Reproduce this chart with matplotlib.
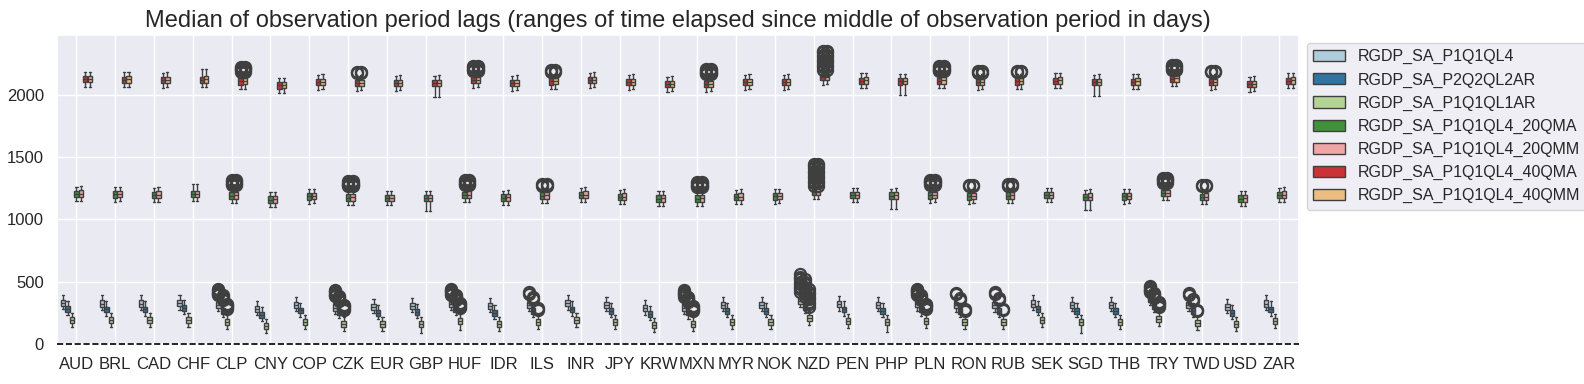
import matplotlib
matplotlib.use("Agg")
import matplotlib.pyplot as plt
import seaborn as sns
from matplotlib.patches import Patch

sns.set_theme(style="darkgrid")
plt.rcParams["font.family"] = ["Liberation Sans", "DejaVu Sans"]

categories = ["AUD", "BRL", "CAD", "CHF", "CLP", "CNY", "COP", "CZK", "EUR", "GBP", "HUF",
              "IDR", "ILS", "INR", "JPY", "KRW", "MXN", "MYR", "NOK", "NZD", "PEN", "PHP",
              "PLN", "RON", "RUB", "SEK", "SGD", "THB", "TRY", "TWD", "USD", "ZAR"]

series = ["RGDP_SA_P1Q1QL4", "RGDP_SA_P2Q2QL2AR", "RGDP_SA_P1Q1QL1AR",
          "RGDP_SA_P1Q1QL4_20QMA", "RGDP_SA_P1Q1QL4_20QMM",
          "RGDP_SA_P1Q1QL4_40QMA", "RGDP_SA_P1Q1QL4_40QMM"]

# medians per series (days)
med_p1q1ql4 = [330, 325, 325, 327, 314, 280, 314, 293, 298, 306, 325, 306, 314, 327, 314, 287,
               293, 314, 314, 347, 319, 314, 319, 311, 311, 325, 314, 314, 360, 314, 298, 325]
med_p2q2ql2ar = [285, 280, 280, 290, 266, 234, 271, 262, 253, 258, 285, 253, 270, 280, 266, 245,
                 255, 266, 266, 300, 280, 266, 280, 266, 266, 285, 266, 266, 306, 266, 250, 280]
med_p1q1ql1ar = [194, 194, 194, 196, 177, 145, 180, 164, 159, 164, 185, 164, 177, 191, 177, 153,
                 159, 177, 177, 212, 185, 177, 185, 177, 177, 191, 177, 177, 199, 172, 159, 185]
med_20qma = [1205, 1200, 1197, 1203, 1190, 1158, 1184, 1174, 1171, 1171, 1197, 1174, 1190, 1197,
             1181, 1166, 1166, 1181, 1184, 1221, 1195, 1190, 1192, 1184, 1190, 1195, 1181, 1184,
             1210, 1181, 1166, 1197]
med_20qmm = [1207, 1202, 1199, 1205, 1192, 1160, 1186, 1176, 1173, 1173, 1199, 1176, 1192, 1199,
             1183, 1168, 1168, 1183, 1186, 1223, 1197, 1192, 1194, 1186, 1192, 1197, 1183, 1186,
             1212, 1183, 1168, 1199]
med_40qma = [2124, 2121, 2118, 2121, 2107, 2075, 2102, 2094, 2094, 2094, 2118, 2094, 2107, 2118,
             2102, 2086, 2086, 2102, 2102, 2142, 2113, 2107, 2113, 2102, 2107, 2113, 2102, 2105,
             2129, 2102, 2086, 2113]
med_40qmm = [2126, 2123, 2120, 2123, 2109, 2077, 2104, 2096, 2096, 2096, 2120, 2096, 2109, 2120,
             2104, 2088, 2088, 2104, 2104, 2144, 2115, 2109, 2115, 2104, 2109, 2115, 2104, 2107,
             2131, 2104, 2088, 2115]
medians = [med_p1q1ql4, med_p2q2ql2ar, med_p1q1ql1ar, med_20qma, med_20qmm, med_40qma, med_40qmm]

# typical spreads relative to the median: q1, q3, lower whisker, upper whisker
spread_q1 = [-24, -25, -25, -26, -26, -25, -25]
spread_q3 = [25, 21, 24, 26, 26, 25, 25]
spread_wlo = [-50, -51, -57, -58, -58, -60, -60]
spread_whi = [65, 62, 56, 58, 58, 60, 60]

# categories with longer whiskers: (category, series) -> (lower, upper)
whisker_override = {
    ("GBP", 2): (87, None), ("PHP", 2): (95, None), ("SGD", 2): (90, None),
    ("HUF", 2): (113, None),
    ("GBP", 3): (1066, None), ("GBP", 4): (1068, None),
    ("PHP", 3): (1085, None), ("PHP", 4): (1087, None),
    ("SGD", 3): (1076, None), ("SGD", 4): (1078, None),
    ("CHF", 3): (None, 1283), ("CHF", 4): (None, 1285),
    ("GBP", 5): (1984, None), ("GBP", 6): (1986, None),
    ("PHP", 5): (1997, None), ("PHP", 6): (1999, None),
    ("SGD", 5): (1992, None), ("SGD", 6): (1994, None),
    ("CHF", 5): (None, 2206), ("CHF", 6): (None, 2208),
}

# outliers
fliers = {
    "CLP": {0: [390, 400, 410, 420, 430, 440], 1: [350, 360, 370, 380, 392], 2: [285, 295, 305, 315, 322],
            3: [1275, 1285, 1295, 1305, 1315], 4: [1275, 1285, 1295, 1305, 1315],
            5: [2185, 2195, 2205, 2215, 2225], 6: [2185, 2195, 2205, 2215, 2225]},
    "CZK": {0: [385, 395, 405, 415, 425, 435], 1: [345, 355, 365, 375, 385], 2: [275, 285, 295, 305, 312],
            3: [1265, 1275, 1285, 1295, 1305], 4: [1265, 1275, 1285, 1295, 1305],
            5: [2175, 2185], 6: [2175, 2185]},
    "HUF": {0: [395, 405, 415, 425, 435, 445], 1: [355, 365, 375, 385, 395], 2: [290, 300, 310, 320, 328],
            3: [1275, 1285, 1295, 1305, 1315], 4: [1275, 1285, 1295, 1305, 1315],
            5: [2190, 2200, 2210, 2220, 2228], 6: [2190, 2200, 2210, 2220, 2228]},
    "ILS": {0: [405, 420], 1: [360, 375], 2: [272, 287],
            3: [1270, 1285], 4: [1270, 1285], 5: [2182, 2195], 6: [2182, 2195]},
    "MXN": {0: [380, 390, 400, 410, 420, 430], 1: [340, 350, 360, 370, 380], 2: [265, 275, 285, 295, 305],
            3: [1260, 1270, 1280, 1290, 1300], 4: [1260, 1270, 1280, 1290, 1300],
            5: [2165, 2175, 2185, 2195, 2205], 6: [2165, 2175, 2185, 2195, 2205]},
    "NZD": {0: [420, 440, 460, 480, 500, 520, 540, 560], 1: [380, 400, 420, 440, 460, 480, 500, 520],
            2: [300, 320, 340, 360, 380, 400, 420, 440],
            3: [1270, 1290, 1310, 1330, 1350, 1370, 1390, 1410, 1430, 1445],
            4: [1270, 1290, 1310, 1330, 1350, 1370, 1390, 1410, 1430, 1445],
            5: [2200, 2220, 2240, 2260, 2280, 2300, 2320, 2340, 2350],
            6: [2200, 2220, 2240, 2260, 2280, 2300, 2320, 2340, 2350]},
    "PLN": {0: [395, 405, 415, 425, 435, 445], 1: [350, 360, 370, 380, 390], 2: [285, 295, 305, 315, 322],
            3: [1280, 1290, 1300, 1310, 1318], 4: [1280, 1290, 1300, 1310, 1318],
            5: [2190, 2200, 2210, 2220, 2232], 6: [2190, 2200, 2210, 2220, 2232]},
    "RON": {0: [400, 413], 1: [355, 368], 2: [268, 282],
            3: [1268, 1280], 4: [1268, 1280], 5: [2175, 2188], 6: [2175, 2188]},
    "RUB": {0: [405, 419], 1: [355, 367], 2: [270, 282],
            3: [1272, 1285], 4: [1272, 1285], 5: [2180, 2192], 6: [2180, 2192]},
    "TRY": {0: [415, 425, 435, 445, 455, 465], 1: [370, 380, 390, 400, 410], 2: [300, 310, 320, 330, 338],
            3: [1295, 1305, 1315, 1325, 1335], 4: [1295, 1305, 1315, 1325, 1335],
            5: [2200, 2210, 2220, 2230, 2242], 6: [2200, 2210, 2220, 2230, 2242]},
    "TWD": {0: [395, 408], 1: [348, 360], 2: [262, 272],
            3: [1268, 1280], 4: [1268, 1280], 5: [2180, 2192], 6: [2180, 2192]},
}

base_colors = sns.color_palette("Paired", 7)
colors = [sns.desaturate(c, 0.75) for c in base_colors]
line_color = "#3f3f3f"

fig = plt.figure(figsize=(15.84, 3.84), dpi=100)
ax = fig.add_axes([0.036, 0.104, 0.784, 0.805])

n = len(series)
w = 0.8 / n
for j in range(n):
    stats = []
    positions = []
    for i, cat in enumerate(categories):
        m = medians[j][i]
        lo = m + spread_wlo[j]
        hi = m + spread_whi[j]
        ov = whisker_override.get((cat, j))
        if ov is not None:
            if ov[0] is not None:
                lo = ov[0]
            if ov[1] is not None:
                hi = ov[1]
        stats.append({
            "med": m, "q1": m + spread_q1[j], "q3": m + spread_q3[j],
            "whislo": lo, "whishi": hi,
            "fliers": fliers.get(cat, {}).get(j, []),
        })
        positions.append(i + (j - (n - 1) / 2) * w)
    ax.bxp(stats, positions=positions, widths=w * 0.98, patch_artist=True, manage_ticks=False,
           boxprops=dict(facecolor=colors[j], edgecolor=line_color, linewidth=1.0),
           medianprops=dict(color=line_color, linewidth=1.0),
           whiskerprops=dict(color=line_color, linewidth=1.0),
           capprops=dict(color=line_color, linewidth=1.0),
           flierprops=dict(marker="o", markerfacecolor="none", markeredgecolor=line_color,
                           markersize=8, markeredgewidth=1.6))

ax.axhline(0, color="black", linestyle="--", linewidth=1.2, clip_on=False, zorder=5)
ax.set_xticks(range(len(categories)))
ax.set_xticklabels(categories)
ax.set_xlim(-0.5, len(categories) - 0.5)
ax.set_ylim(0, 2480)
ax.set_yticks([0, 500, 1000, 1500, 2000])
ax.tick_params(axis="both", labelsize=12)
ax.set_title("Median of observation period lags (ranges of time elapsed since middle of observation period in days)",
             fontsize=17)

handles = [Patch(facecolor=colors[j], edgecolor=line_color, label=series[j]) for j in range(n)]
ax.legend(handles=handles, loc="upper left", bbox_to_anchor=(1, 1), fontsize=11.5)

fig.savefig("out.png", dpi=100)
